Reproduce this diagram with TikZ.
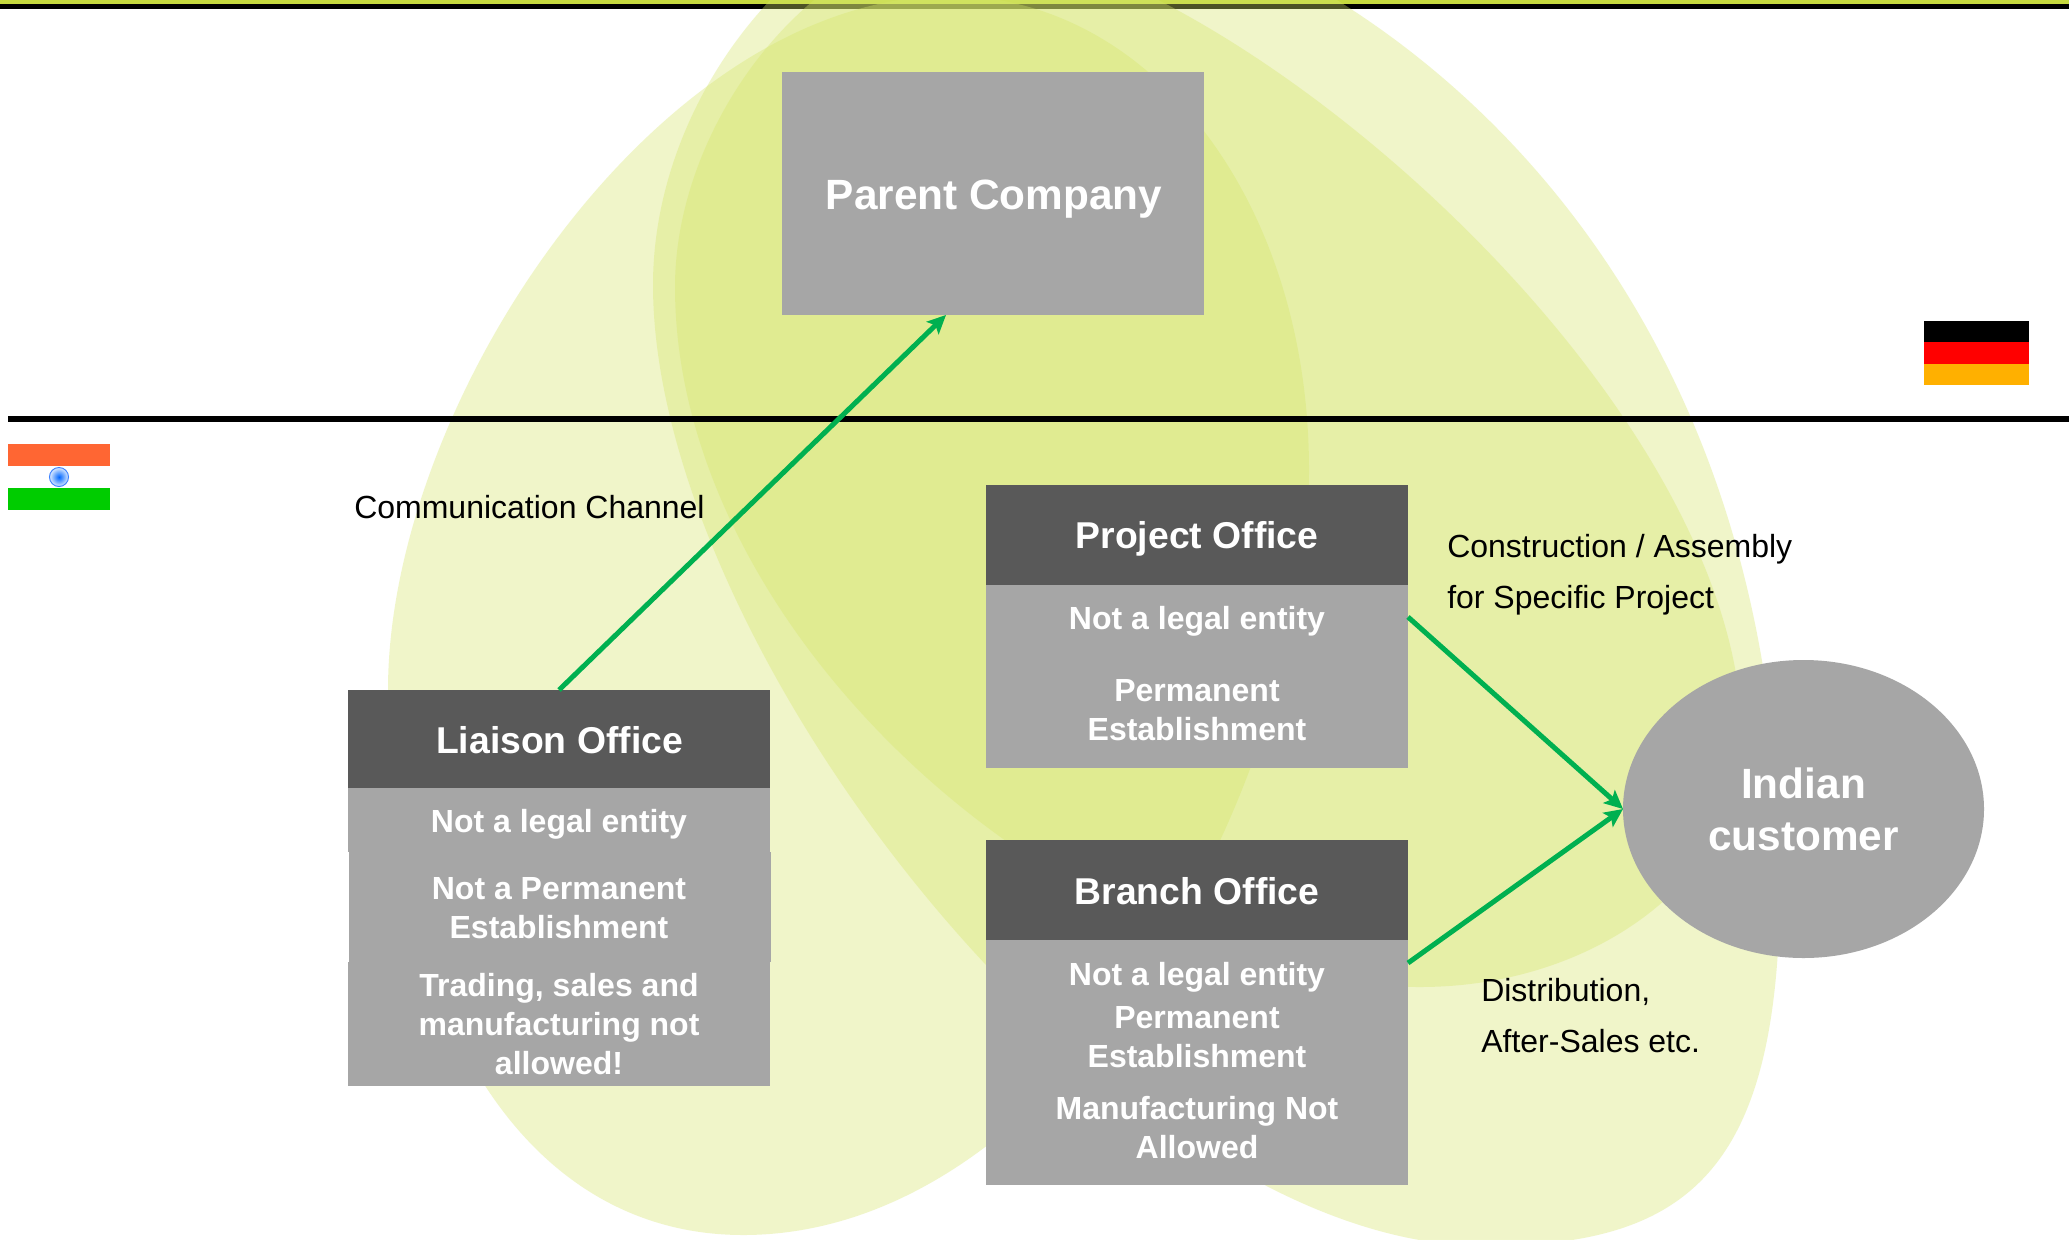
\documentclass[tikz,border=0pt]{standalone}
\usepackage{fontspec}
\setmainfont{Liberation Sans}
\usetikzlibrary{shapes.geometric,arrows.meta}
\definecolor{blob}{HTML}{D6E66C}
\definecolor{strip}{HTML}{C6D93F}
\definecolor{boxgrey}{HTML}{A6A6A6}
\definecolor{headgrey}{HTML}{595959}
\definecolor{arrowgreen}{HTML}{00B050}
\tikzset{
  blobshape/.style={fill=blob,fill opacity=.36,draw=none},
  greybox/.style={fill=boxgrey,draw=none,inner sep=0pt,outer sep=0pt,anchor=north west,minimum width=316.5pt},
  headbox/.style={greybox,fill=headgrey},
  titletxt/.style={text=white,anchor=base,align=center,inner sep=0pt,font=\bfseries\fontsize{28}{33}\selectfont},
  bigtxt/.style={text=white,anchor=base,align=center,inner sep=0pt,font=\bfseries\fontsize{31.75}{39}\selectfont},
  bodytxt/.style={text=white,anchor=base,align=center,inner sep=0pt,font=\bfseries\fontsize{24}{29.25}\selectfont},
  labeltxt/.style={text=black,anchor=base west,align=left,inner sep=0pt,font=\fontsize{24}{38.25}\selectfont},
  flow/.style={draw=arrowgreen,line width=3.75pt,-{Stealth[length=14pt,width=13pt,inset=3pt]}},
  rulebar/.style={fill=black,draw=none}
}
\begin{document}
\begin{tikzpicture}[x=.75pt,y=-.75pt]
\useasboundingbox (0,0) rectangle (2069,1239);
\clip (0,0) rectangle (2069,1239);
\fill[white] (0,0) rectangle (2069,1239);
% top rules
\fill[strip] (0,0) rectangle (2069,3.5);
\fill[rulebar] (0,3.5) rectangle (2069,9);
% blobs
\fill[blobshape] (388,690) .. controls (388,400) and (660,-4) .. (950,-4)
  .. controls (1150,-4) and (1309,200) .. (1309,470)
  .. controls (1309,790) and (1063,1235) .. (743,1235)
  .. controls (523,1235) and (388,1010) .. (388,690) -- cycle;
\fill[blobshape] (653,285) .. controls (653,85) and (820,-110) .. (1000,-110)
  .. controls (1270,-110) and (1780,180) .. (1780,880)
  .. controls (1780,1170) and (1690,1246) .. (1485,1246)
  .. controls (1118,1246) and (653,652) .. (653,285) -- cycle;
\fill[blobshape] (675,287) .. controls (675,117) and (820,-60) .. (960,-60)
  .. controls (1210,-60) and (1742,390) .. (1742,740)
  .. controls (1742,876) and (1597,987) .. (1420,987)
  .. controls (1070,987) and (675,637) .. (675,287) -- cycle;
% middle rule
\fill[rulebar] (8,416) rectangle (2069,422);
% flags
\fill[black] (1924,321) rectangle (2029,342);
\fill[red] (1924,342) rectangle (2029,364);
\fill[color={rgb,255:red,255;green,176;blue,0}] (1924,364) rectangle (2029,385);
\fill[color={rgb,255:red,255;green,102;blue,51}] (8,444) rectangle (110,466);
\fill[color={rgb,255:red,0;green,204;blue,0}] (8,488) rectangle (110,510);
\shade[inner color={rgb,255:red,0;green,102;blue,255},outer color={rgb,255:red,210;green,228;blue,255}] (59,477) circle[radius=9];
\draw[color={rgb,255:red,60;green,130;blue,255},line width=.75pt] (59,477) circle[radius=9.5];
% parent
\node[greybox,minimum height=182.25pt] (parent) at (782,72) {};
\node[bigtxt] (parenttxt) at (994,209) {Parent Company};
% liaison
\node[headbox,minimum height=73.5pt] (liaisonhead) at (348,690) {};
\node[greybox,minimum height=48pt] (liaisonone) at (348,788) {};
\node[greybox,minimum height=82.5pt] (liaisontwo) at (349,852) {};
\node[greybox,minimum height=93pt] (liaisonthree) at (348,962) {};
\node[titletxt] (liaisontitle) at (559.5,753) {Liaison Office};
\node[bodytxt] (liaisona) at (559,832) {Not a legal entity};
\node[bodytxt] (liaisonb) at (559,938.5) {Not a Permanent\\Establishment};
\node[bodytxt] (liaisonc) at (559,1074) {Trading, sales and\\manufacturing not\\allowed!};
% project
\node[headbox,minimum height=75pt] (projecthead) at (986,485) {};
\node[greybox,minimum height=137.25pt] (projectbody) at (986,585) {};
\node[titletxt] (projecttitle) at (1197,548) {Project Office};
\node[bodytxt] (projecta) at (1197,629) {Not a legal entity};
\node[bodytxt] (projectb) at (1197,740.5) {Permanent\\Establishment};
% branch
\node[headbox,minimum height=75pt] (branchhead) at (986,840) {};
\node[greybox,minimum height=183.75pt] (branchbody) at (986,940) {};
\node[titletxt] (branchtitle) at (1197,904) {Branch Office};
\node[bodytxt] (brancha) at (1197,985) {Not a legal entity};
\node[bodytxt] (branchb) at (1197,1067) {Permanent\\Establishment};
\node[bodytxt] (branchc) at (1197,1158) {Manufacturing Not\\Allowed};
% customer
\node[ellipse,fill=boxgrey,draw=none,inner sep=0pt,outer sep=0pt,minimum width=270.75pt,minimum height=223.5pt] (customer) at (1803.5,809) {};
\node[bigtxt] (customertxt) at (1803.5,850) {Indian\\customer};
% labels
\node[labeltxt] (commlabel) at (354,518.5) {Communication Channel};
\node[labeltxt] (constlabel) at (1447,608) {Construction / Assembly\\for Specific Project};
\node[labeltxt] (distlabel) at (1481,1052.5) {Distribution,\\After-Sales etc.};
% connectors
\coordinate (parentin) at (946,315);
\coordinate (projectout) at (1408,617);
\coordinate (branchout) at (1408,963);
\draw[flow] (liaisonhead.north) -- (parentin);
\draw[flow] (projectout) -- (customer.west);
\draw[flow] (branchout) -- (customer.west);
\end{tikzpicture}
\end{document}
